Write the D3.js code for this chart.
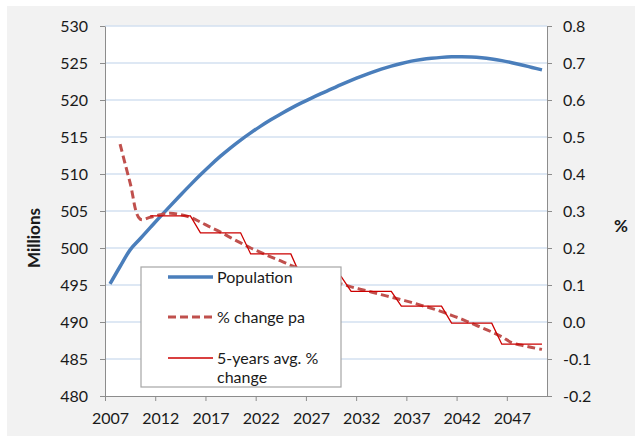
<!DOCTYPE html>
<html>
<head>
<meta charset="utf-8">
<script src="https://cdn.jsdelivr.net/npm/d3@7"></script>
<style>
  html, body { margin: 0; padding: 0; background: #ffffff; }
  svg { display: block; font-family: Lato, "Open Sans", sans-serif; }
</style>
</head>
<body>
<svg id="chart" width="635" height="436"></svg>
<script>
// ---- data ----
const years = [2007,2008,2009,2010,2011,2012,2013,2014,2015,2016,2017,2018,2019,2020,2021,2022,2023,2024,2025,2026,2027,2028,2029,2030,2031,2032,2033,2034,2035,2036,2037,2038,2039,2040,2041,2042,2043,2044,2045,2046,2047,2048,2049,2050];
const population = [495.15,497.5,499.75,501.25,502.75,504.24,505.70,507.13,508.53,509.89,511.19,512.41,513.54,514.59,515.56,516.47,517.32,518.12,518.87,519.57,520.23,520.86,521.46,522.07,522.65,523.20,523.71,524.17,524.58,524.94,525.25,525.47,525.64,525.76,525.83,525.85,525.82,525.72,525.55,525.32,525.04,524.73,524.40,524.07];
const pctChange = [null,0.481,0.376,0.278,0.283,0.29,0.294,0.29,0.283,0.27,0.256,0.243,0.228,0.214,0.2,0.188,0.176,0.165,0.153,0.142,0.131,0.121,0.111,0.103,0.095,0.088,0.081,0.074,0.067,0.06,0.053,0.045,0.037,0.028,0.018,0.008,-0.004,-0.015,-0.027,-0.04,-0.056,-0.063,-0.069,-0.074];
const fiveYearAvg = [null,null,null,null,0.287,0.287,0.287,0.287,0.287,0.241,0.241,0.241,0.241,0.241,0.184,0.184,0.184,0.184,0.184,0.123,0.123,0.123,0.123,0.123,0.083,0.083,0.083,0.083,0.083,0.043,0.043,0.043,0.043,0.043,-0.003,-0.003,-0.003,-0.003,-0.003,-0.06,-0.06,-0.06,-0.06,-0.06];
const leftTicks = [480,485,490,495,500,505,510,515,520,525,530];
const rightTicks = [-0.2,-0.1,0.0,0.1,0.2,0.3,0.4,0.5,0.6,0.7,0.8];
const xLabelYears = [2007,2012,2017,2022,2027,2032,2037,2042,2047];
const seriesNames = ["Population", "% change pa", "5-years avg. %|change"];

// ---- layout ----
const svg = d3.select("#chart");
const L = 105, R = 547, T = 26, B = 396;

svg.append("rect").attr("x", 0).attr("y", 0).attr("width", 635).attr("height", 436).attr("fill", "#ffffff");
svg.append("rect").attr("x", 7).attr("y", 6).attr("width", 628).attr("height", 430).attr("fill", "#f2f2f2");
svg.append("rect").attr("x", L).attr("y", T).attr("width", R - L).attr("height", B - T).attr("fill", "#ffffff");

const xBand = d3.scaleBand().domain(years).range([L, R]).padding(0);
const xc = y => xBand(y) + xBand.bandwidth() / 2;
const xEdge = d3.scaleLinear().domain([0, years.length]).range([L, R]);
const yL = d3.scaleLinear().domain([480, 530]).range([B, T]);
const yR = d3.scaleLinear().domain([-0.2, 0.8]).range([B, T]);

// gridlines
svg.append("g").selectAll("line").data(leftTicks.filter(v => v > 480)).join("line")
  .attr("x1", L).attr("x2", R)
  .attr("y1", d => yL(d)).attr("y2", d => yL(d))
  .attr("stroke", "#d3e0f0").attr("stroke-width", 1.6);

const axisColor = "#8c8c8c";
function styleAxis(g) {
  g.select(".domain").attr("stroke", axisColor).attr("stroke-width", 1);
  g.selectAll(".tick line").attr("stroke", axisColor);
  g.selectAll(".tick text").attr("fill", "#1a1a1a").style("font-size", "16px").style("font-family", "Lato, sans-serif");
}

// left axis
const gL = svg.append("g").attr("transform", `translate(${L},0)`)
  .call(d3.axisLeft(yL).tickValues(leftTicks).tickSize(5).tickSizeOuter(0).tickPadding(12).tickFormat(d3.format("d")));
styleAxis(gL);

// right axis
const gR = svg.append("g").attr("transform", `translate(${R},0)`)
  .call(d3.axisRight(yR).tickValues(rightTicks).tickSize(5).tickSizeOuter(0).tickPadding(11).tickFormat(d => d3.format(".1f")(Math.abs(d) < 1e-9 ? 0 : d).replace("−", "-")));
styleAxis(gR);

// bottom axis: ticks at category boundaries, labels centered in categories
const tickIdx = xLabelYears.map(y => years.indexOf(y));
const gB = svg.append("g").attr("transform", `translate(0,${B})`)
  .call(d3.axisBottom(xEdge).tickValues(tickIdx).tickSize(5).tickSizeOuter(0).tickPadding(12).tickFormat(i => years[i]));
styleAxis(gB);
gB.selectAll(".tick text").attr("x", xBand.bandwidth() / 2);

// population line
const popData = years.map((y, i) => ({ y, v: population[i] }));
svg.append("path").datum(popData)
  .attr("fill", "none").attr("stroke", "#4a7ebb").attr("stroke-width", 3.5).attr("stroke-linejoin", "round")
  .attr("d", d3.line().x(d => xc(d.y)).y(d => yL(d.v)).curve(d3.curveMonotoneX));

// % change pa
const pctData = years.map((y, i) => ({ y, v: pctChange[i] })).filter(d => d.v !== null);
svg.append("path").datum(pctData)
  .attr("fill", "none").attr("stroke", "#c0504d").attr("stroke-width", 3).attr("stroke-dasharray", "8,4")
  .attr("d", d3.line().x(d => xc(d.y)).y(d => yR(d.v)).curve(d3.curveCatmullRom.alpha(0.5)));

// 5-year average
const avgData = years.map((y, i) => ({ y, v: fiveYearAvg[i] })).filter(d => d.v !== null);
svg.append("path").datum(avgData)
  .attr("fill", "none").attr("stroke", "#cc0000").attr("stroke-width", 1.3)
  .attr("d", d3.line().x(d => xc(d.y)).y(d => yR(d.v)));

// legend
const lg = svg.append("g");
lg.append("rect").attr("x", 141).attr("y", 267).attr("width", 200).attr("height", 120)
  .attr("fill", "#ffffff").attr("stroke", "#a6a6a6").attr("stroke-width", 1.2);
const legendStyles = [
  { color: "#4a7ebb", width: 3.5, dash: null, y: 277 },
  { color: "#c0504d", width: 3, dash: "8,4", y: 317 },
  { color: "#cc0000", width: 1.3, dash: null, y: 358 }
];
seriesNames.forEach((name, i) => {
  const s = legendStyles[i];
  lg.append("line").attr("x1", 168).attr("x2", 213).attr("y1", s.y).attr("y2", s.y)
    .attr("stroke", s.color).attr("stroke-width", s.width).attr("stroke-dasharray", s.dash);
  const lines = name.split("|");
  lines.forEach((t, j) => {
    lg.append("text").attr("x", 217).attr("y", s.y + j * 19).attr("dy", "0.35em")
      .style("font-size", "16px").attr("fill", "#1a1a1a").text(t);
  });
});

// axis titles
svg.append("text").attr("transform", "translate(39.5,238) rotate(-90)")
  .attr("text-anchor", "middle").style("font-size", "17px").style("font-weight", "bold").attr("fill", "#1a1a1a")
  .text("Millions");
svg.append("text").attr("x", 621).attr("y", 226).attr("dy", "0.35em")
  .attr("text-anchor", "middle").style("font-size", "17px").style("font-weight", "bold").attr("fill", "#1a1a1a")
  .text("%");
</script>
</body>
</html>
